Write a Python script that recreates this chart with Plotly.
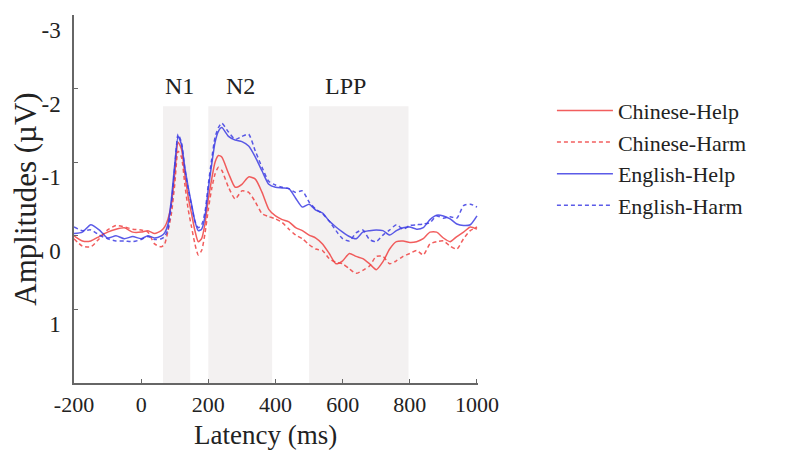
import plotly.graph_objects as go

# Latency grid (ms)
latency = [-200, -175, -150, -125, -100, -75, -50, -25, 0, 20, 40, 60, 70, 80, 90, 100,
           110, 120, 130, 140, 150, 160, 170, 180, 190, 200, 210, 220, 230, 240, 260, 280,
           300, 320, 340, 360, 380, 400, 420, 440, 460, 480, 500, 520, 540, 560, 580, 600,
           620, 640, 660, 680, 700, 720, 740, 760, 780, 800, 820, 840, 860, 880, 900, 920,
           940, 960, 980, 1000]

chinese_help = [0.0, 0.07, 0.07, 0.01, -0.05, -0.09, -0.11, -0.05, -0.05, -0.07, -0.03, -0.07, -0.12, -0.23, -0.43, -0.84,
                -1.27, -1.18, -0.84, -0.53, -0.30, -0.07, 0.08, 0.04, -0.16, -0.50, -0.77, -1.00, -1.09, -1.07, -0.85, -0.66,
                -0.70, -0.80, -0.77, -0.59, -0.36, -0.27, -0.22, -0.19, -0.11, -0.07, -0.01, 0.03, 0.11, 0.24, 0.38, 0.34,
                0.24, 0.28, 0.31, 0.38, 0.46, 0.35, 0.18, 0.08, 0.07, 0.09, 0.08, 0.04, -0.05, -0.05, 0.03, 0.08,
                0.01, -0.05, -0.12, -0.09]

chinese_harm = [0.04, 0.14, 0.15, 0.04, -0.08, -0.14, -0.12, -0.09, -0.08, -0.05, 0.11, 0.15, 0.11, -0.07, -0.30, -0.70,
                -1.15, -1.07, -0.70, -0.36, -0.12, 0.11, 0.26, 0.20, -0.03, -0.36, -0.64, -0.84, -0.93, -0.89, -0.66, -0.50,
                -0.61, -0.59, -0.46, -0.30, -0.26, -0.23, -0.18, -0.09, -0.01, 0.04, 0.12, 0.18, 0.20, 0.31, 0.36, 0.38,
                0.45, 0.51, 0.47, 0.41, 0.28, 0.28, 0.38, 0.34, 0.28, 0.24, 0.20, 0.26, 0.11, 0.08, 0.07, 0.14,
                0.18, 0.04, -0.07, -0.12]

english_help = [-0.03, -0.05, -0.15, -0.08, 0.03, 0.0, 0.04, 0.01, 0.04, 0.0, 0.03, 0.0, -0.04, -0.16, -0.50, -0.97,
                -1.35, -1.24, -0.93, -0.66, -0.43, -0.20, -0.07, -0.09, -0.26, -0.64, -0.97, -1.27, -1.42, -1.47, -1.35, -1.30,
                -1.28, -1.22, -1.07, -0.88, -0.70, -0.66, -0.65, -0.64, -0.51, -0.39, -0.43, -0.35, -0.31, -0.20, -0.12, -0.05,
                0.01, 0.04, -0.05, -0.07, -0.08, -0.07, -0.01, -0.07, -0.11, -0.12, -0.09, -0.11, -0.22, -0.28, -0.27, -0.23,
                -0.16, -0.14, -0.15, -0.27]

english_harm = [-0.12, -0.07, -0.08, -0.01, 0.04, 0.07, 0.07, 0.08, 0.05, 0.01, 0.05, 0.04, 0.01, -0.09, -0.43, -0.93,
                -1.38, -1.27, -0.91, -0.64, -0.41, -0.20, -0.11, -0.15, -0.32, -0.70, -1.04, -1.34, -1.47, -1.53, -1.41, -1.31,
                -1.35, -1.38, -1.15, -0.93, -0.74, -0.69, -0.66, -0.64, -0.59, -0.61, -0.46, -0.36, -0.30, -0.20, -0.07, 0.04,
                0.07, -0.04, -0.08, 0.05, 0.08, -0.01, -0.08, -0.15, -0.09, -0.14, -0.15, -0.16, -0.18, -0.27, -0.24, -0.26,
                -0.24, -0.41, -0.43, -0.39]

series_names = ["Chinese-Help", "Chinese-Harm", "English-Help", "English-Harm"]

# Analysis windows (ms) and labels
window_names = ["N1", "N2", "LPP"]
window_start = [65, 200, 500]
window_end = [146, 390, 796]
window_label_x = [114, 296, 608]

x_ticks = [-200, 0, 200, 400, 600, 800, 1000]
y_ticks = [-3, -2, -1, 0, 1]

FONT = "Liberation Serif, Times New Roman, serif"
RED = "rgb(240,66,66)"
BLUE = "rgb(62,62,228)"

fig = go.Figure()

styles = [(RED, "solid"), (RED, "dash"), (BLUE, "solid"), (BLUE, "dash")]
data = [chinese_help, chinese_harm, english_help, english_harm]
for name, vals, (col, dash) in zip(series_names, data, styles):
    fig.add_trace(go.Scatter(
        x=latency, y=vals, mode="lines", name=name, legendgroup=name,
        line=dict(color=col, width=1.5, dash="4px,3px" if dash == "dash" else "solid",
                  shape="spline", smoothing=0.6),
        opacity=0.85,
    ))

for nm, x0, x1, lx in zip(window_names, window_start, window_end, window_label_x):
    fig.add_shape(type="rect", xref="x", yref="y", x0=x0, x1=x1, y0=-1.76, y1=2,
                  fillcolor="#f3f1f1", line=dict(width=0), layer="below")
    fig.add_annotation(x=lx, y=-2.03, xref="x", yref="y", text=nm, showarrow=False,
                       font=dict(family=FONT, size=24, color="#222"))

# x-axis title placed below the tick labels
fig.add_annotation(x=0.474, y=-0.142, xref="paper", yref="paper", text="Latency (ms)",
                   showarrow=False, xanchor="center", yanchor="middle",
                   font=dict(family=FONT, size=27, color="#222"))

fig.update_layout(
    width=788, height=444,
    margin=dict(l=66, r=318, t=7, b=69, autoexpand=False),
    paper_bgcolor="white", plot_bgcolor="white",
    font=dict(family=FONT, color="#222"),
    showlegend=True,
    legend=dict(x=1.183, y=0.797, xanchor="left", yanchor="top",
                font=dict(family=FONT, size=22, color="#222"),
                tracegroupgap=0, itemwidth=56, bgcolor="rgba(0,0,0,0)"),
)

fig.update_xaxes(
    range=[-200, 1003], tickvals=x_ticks, ticktext=[str(v) for v in x_ticks],
    showline=True, linecolor="#666", linewidth=1.5, ticks="inside", ticklen=4,
    tickcolor="#666", showgrid=False, zeroline=False, automargin=False,
    ticklabelstandoff=1,
    tickfont=dict(family=FONT, size=22, color="#222"),
)
fig.update_yaxes(
    range=[2, -3], tickvals=y_ticks, ticktext=[str(v) for v in y_ticks],
    showline=True, linecolor="#666", linewidth=1.5, ticks="inside", ticklen=4,
    tickcolor="#666", showgrid=False, zeroline=False, ticklabelshift=-15, automargin=False,
    ticklabelstandoff=7,
    tickfont=dict(family=FONT, size=23, color="#222"),
    title=dict(text="Amplitudes (µV)", font=dict(family=FONT, size=31, color="#222"), standoff=2),
)

fig.write_html("out.html")
